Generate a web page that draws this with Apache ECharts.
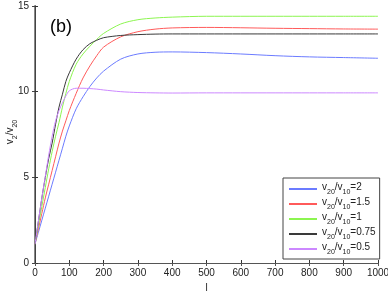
<!DOCTYPE html>
<html><head><meta charset="utf-8">
<script src="https://cdn.jsdelivr.net/npm/echarts@6/dist/echarts.min.js"></script>
<style>html,body{margin:0;padding:0;background:#fff}#c{width:388px;height:292px}</style>
</head><body><div id="c"></div>
<script>
var xs = [0,10,20,30,40,50,60,70,80,90,100,120,140,160,180,200,250,300,350,400,500,600,700,800,900,1000];
var ratio2   = [1.1,1.8,2.5,3.2,3.9,4.6,5.3,6.0,6.7,7.4,8.0,9.0,9.7,10.3,10.8,11.2,11.9,12.2,12.3,12.32,12.28,12.2,12.1,12.03,11.99,11.95];
var ratio1_5 = [1.1,2.0,2.9,3.8,4.6,5.4,6.2,7.0,7.7,8.3,8.9,9.9,10.8,11.5,12.1,12.6,13.2,13.5,13.65,13.72,13.75,13.73,13.7,13.68,13.66,13.65];
var ratio1   = [1.1,2.2,3.3,4.4,5.5,6.5,7.4,8.2,9.1,9.9,10.6,11.6,12.2,12.65,13.05,13.4,13.95,14.2,14.3,14.35,14.4,14.4,14.4,14.4,14.4,14.4];
var ratio0_75= [1.1,2.45,3.8,5.0,6.1,7.0,8.1,9.1,9.85,10.6,11.1,11.9,12.45,12.8,13.0,13.15,13.28,13.33,13.36,13.37,13.37,13.37,13.37,13.37,13.37,13.37];
var ratio0_5 = [1.1,2.45,3.8,5.05,6.3,7.4,8.3,8.9,9.35,9.75,10.05,10.2,10.2,10.18,10.15,10.1,10.0,9.95,9.93,9.92,9.93,9.93,9.93,9.93,9.93,9.93];
var xTicks = [0,100,200,300,400,500,600,700,800,900,1000];
var yTicks = [0,5,10,15];
var names = ['2','1.5','1','0.75','0.5'];
var colors = ['#6b7bff','#ff5a5a','#8cf550','#3a3a3a','#cc88ff'];
var seriesVals = [ratio2, ratio1_5, ratio1, ratio0_75, ratio0_5];

function pairs(v){ return xs.map(function(x,i){return [x,v[i]];}); }
var FONT = 'Liberation Sans, Arial, sans-serif';
var chart = echarts.init(document.getElementById('c'), null, {renderer:'canvas'});
var series = seriesVals.map(function(v,i){
  return {name:names[i], type:'line', data:pairs(v), showSymbol:false, smooth:0.3,
    lineStyle:{width:1,color:colors[i]}, itemStyle:{color:colors[i]}, z:3};
});
var tickLab = {fontFamily:FONT,fontSize:10,color:'#222'};
var subRich = {
  a:{fontFamily:FONT,fontSize:10,fill:'#222',color:'#222',lineHeight:14,verticalAlign:'top'},
  s:{fontFamily:FONT,fontSize:7,fill:'#222',color:'#222',lineHeight:14,verticalAlign:'bottom'}};
chart.setOption({
  animation:false,
  grid:{left:35,right:10,top:6,bottom:29,containLabel:false,outerBoundsMode:'none'},
  xAxis:[{type:'value',min:0,max:1000,interval:100,position:'bottom',
    axisLine:{lineStyle:{color:'#333',width:1}},
    axisTick:{inside:true,length:3,lineStyle:{color:'#333'}},
    axisLabel:Object.assign({margin:5,formatter:function(v){return xTicks.indexOf(v)>=0?String(v):'';}},tickLab),
    splitLine:{show:false},
    name:'l',nameLocation:'middle',nameGap:19,nameTextStyle:{fontFamily:FONT,fontSize:10,color:'#222'}},
   {type:'value',min:0,max:1000,interval:100,position:'top',
    axisLine:{show:true,lineStyle:{color:'#555',width:1}},
    axisTick:{inside:true,length:3,lineStyle:{color:'#555'}},
    axisLabel:{show:false},splitLine:{show:false}}],
  yAxis:[{type:'value',min:0,max:15,interval:5,position:'left',
    axisLine:{show:true,lineStyle:{color:'#888',width:2}},
    axisTick:{inside:true,length:3,lineStyle:{color:'#333'}},
    axisLabel:Object.assign({margin:6,formatter:function(v){return yTicks.indexOf(v)>=0?String(v):'';}},tickLab),
    splitLine:{show:false}},
   {type:'value',min:0,max:15,interval:5,position:'right',
    axisLine:{show:true,lineStyle:{color:'#444',width:1}},
    axisTick:{inside:true,length:3,lineStyle:{color:'#444'}},
    axisLabel:{show:false},splitLine:{show:false}}],
  legend:{orient:'vertical',left:283,top:178,width:91,
    backgroundColor:'#fff',borderColor:'#444',borderWidth:1,padding:[4,4,3,6],
    itemWidth:28,itemHeight:2,itemGap:1,icon:'rect',
    data:names,
    formatter:function(n){return '{a|v}{s|20}{a|/v}{s|10}{a|='+n+'}';},
    textStyle:{fontFamily:FONT,color:'#222',rich:subRich}},
  graphic:[
    {type:'text',left:50,top:18,style:{text:'(b)',fontFamily:FONT,fontSize:18,fill:'#000'}},
    {type:'text',x:12,y:132,rotation:Math.PI/2,
     style:{text:'{a|v}{s|2}{a|/v}{s|20}',align:'center',verticalAlign:'middle',rich:subRich}}
  ],
  series:series
});
</script></body></html>
